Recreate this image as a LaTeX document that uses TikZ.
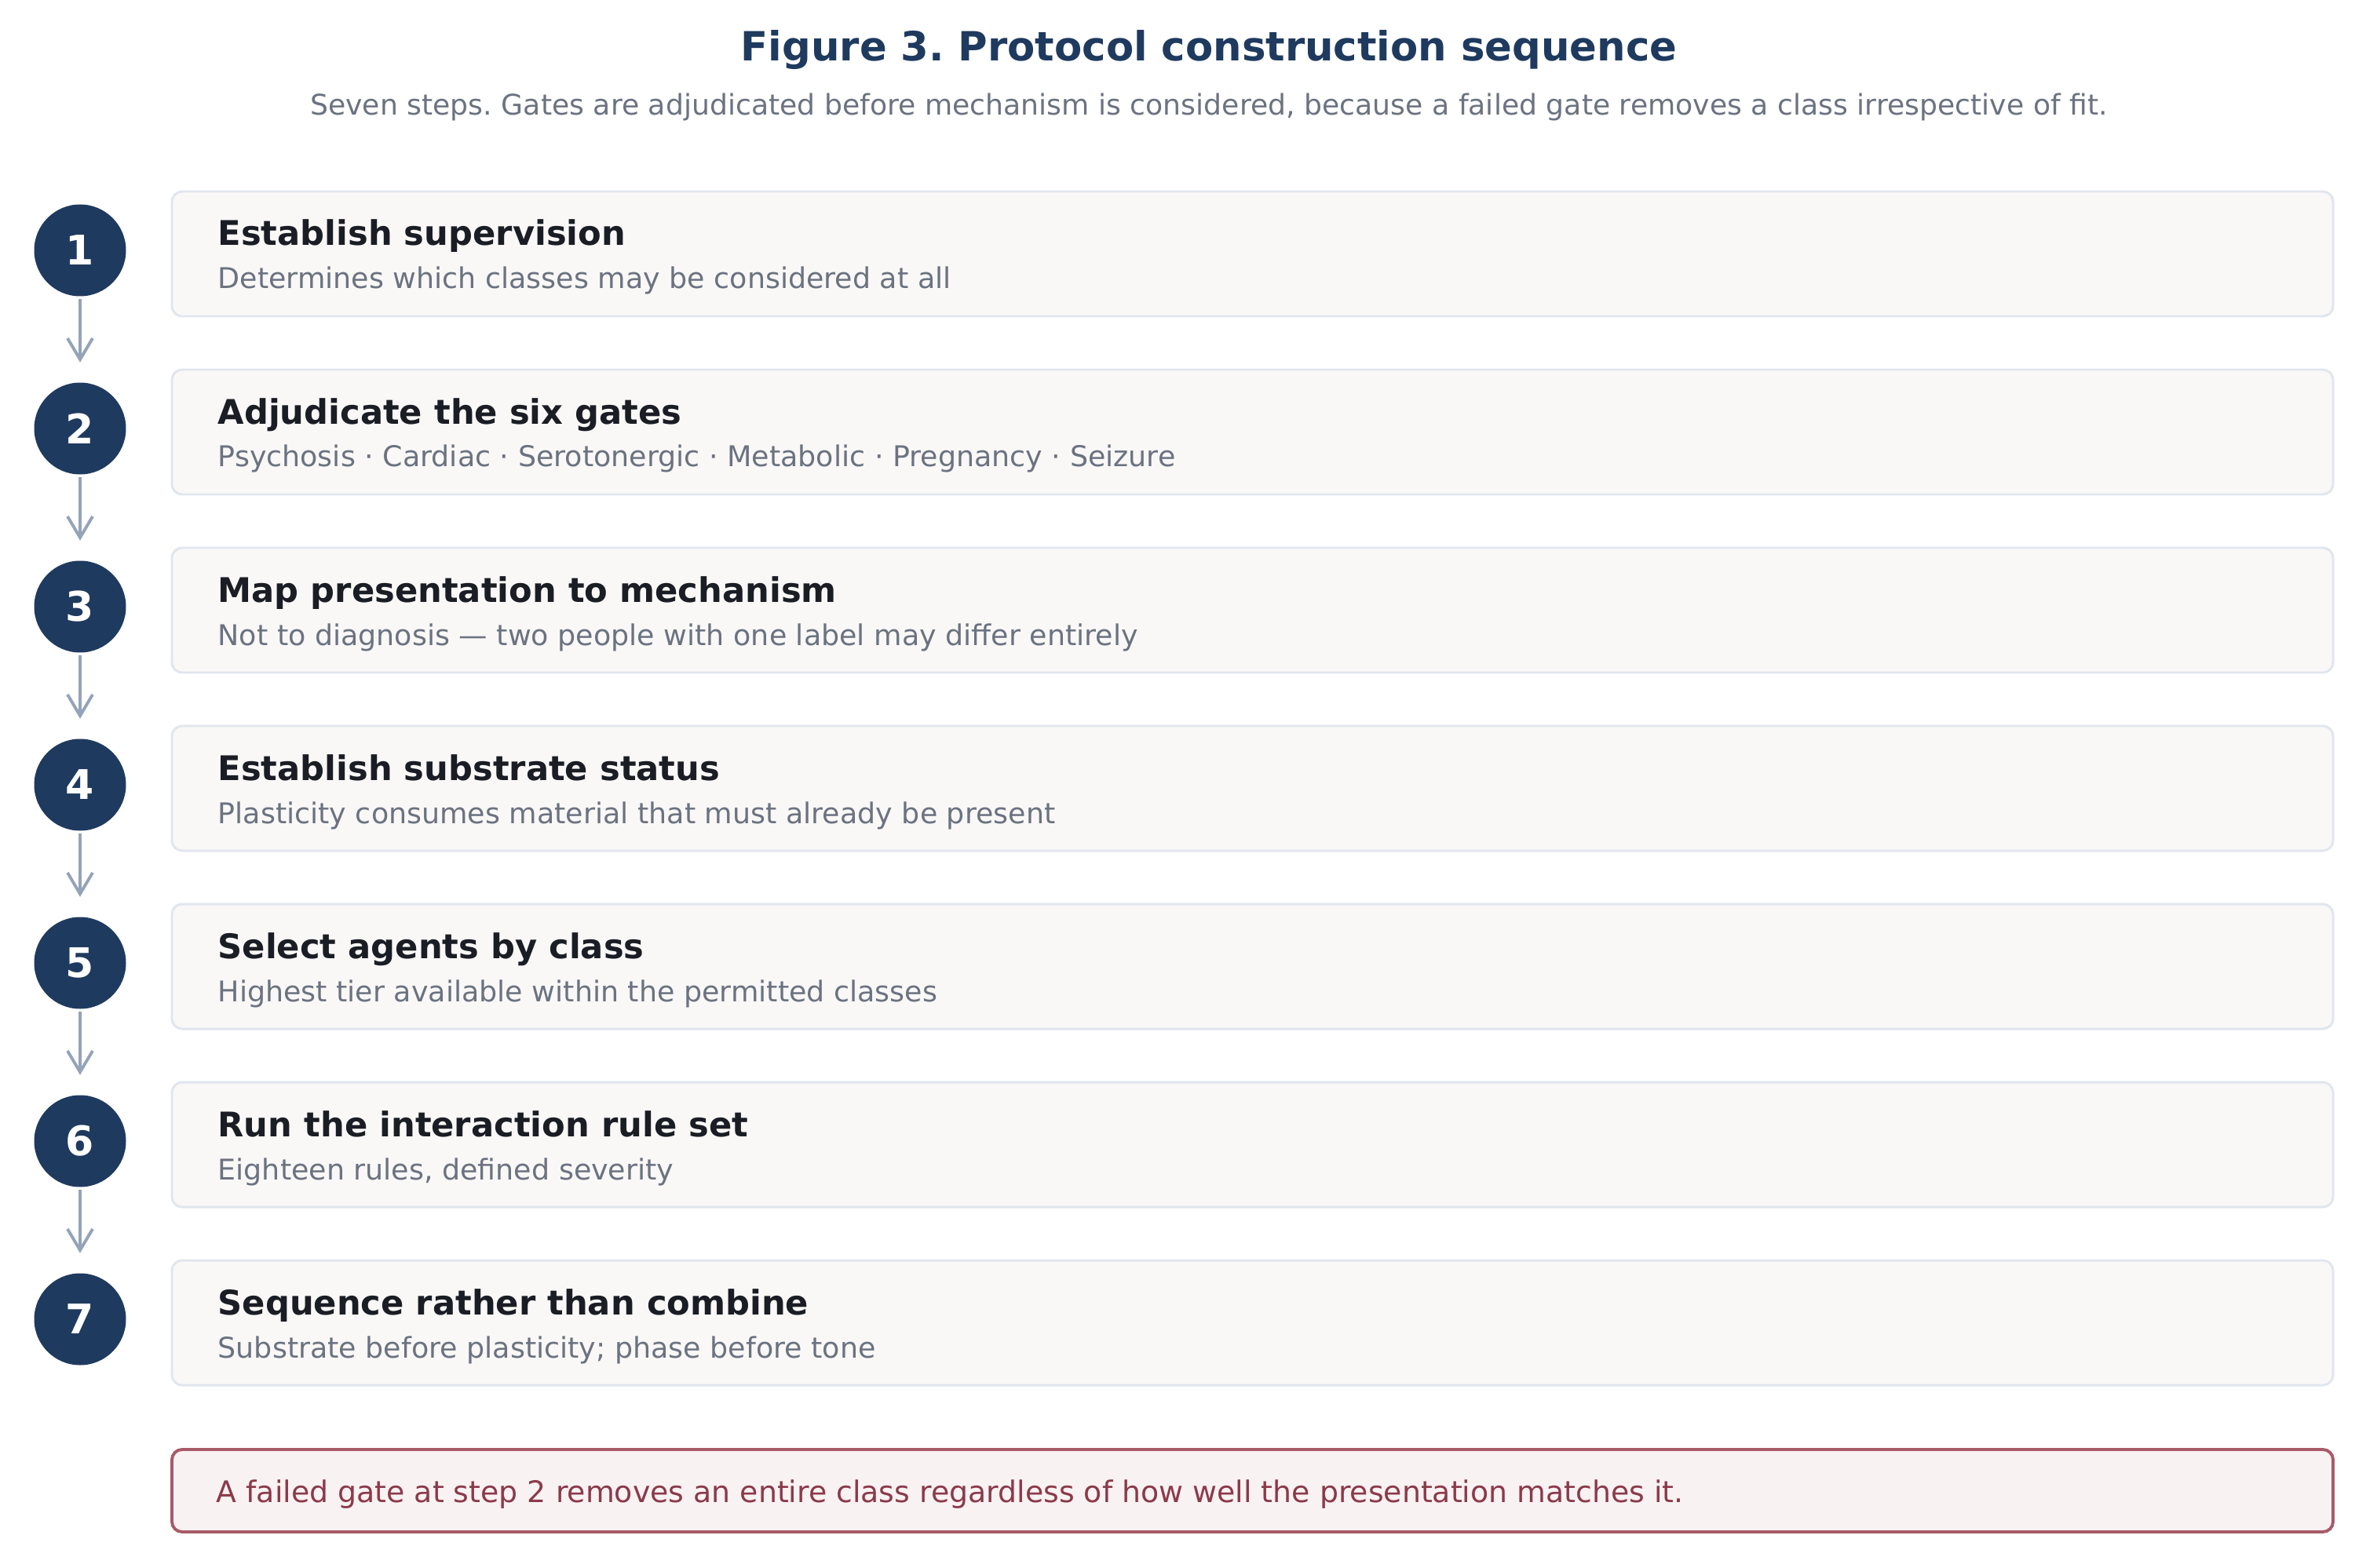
\documentclass[tikz,border=0pt]{standalone}
\usepackage{fontspec}
\setmainfont{DejaVu Sans}
\usetikzlibrary{arrows.meta}
\frenchspacing

\definecolor{navy}{HTML}{1F3A5F}
\definecolor{ink}{HTML}{1A1D24}
\definecolor{muted}{HTML}{6B7280}
\definecolor{boxfill}{HTML}{F9F8F7}
\definecolor{boxline}{HTML}{E1E6EE}
\definecolor{arrowgray}{HTML}{94A3B8}
\definecolor{warnline}{HTML}{A85A68}
\definecolor{warnfill}{HTML}{F9F2F3}
\definecolor{warntext}{HTML}{8B3A4A}

\tikzset{
	stepnum/.style={circle, fill=navy, text=white, minimum size=1.17cm, inner sep=0pt,
		font=\fontsize{14.8}{16}\selectfont\bfseries},
	stepbox/.style={draw=boxline, fill=boxfill, line width=0.85pt, rounded corners=0.13cm,
		minimum width=27.53cm, minimum height=1.59cm, inner sep=0pt},
	steptitle/.style={anchor=base west, inner sep=0pt, text=ink,
		font=\fontsize{12.3}{14}\selectfont\bfseries},
	stepdesc/.style={anchor=base west, inner sep=0pt, text=muted,
		font=\fontsize{10.36}{12}\selectfont},
	flow/.style={draw=arrowgray, line width=1.1pt, shorten <=0.03cm, shorten >=0.25cm,
		-{Straight Barb[length=0.27cm, width=0.32cm, line width=1.1pt]}}
}

\begin{document}
\begin{tikzpicture}
		\useasboundingbox (0,0) rectangle (30.28,-19.98);

		\node[anchor=base, inner sep=0pt, text=navy, font=\fontsize{14.6}{18}\selectfont\bfseries]
			at (15.40, -0.78) (head) {Figure 3. Protocol construction sequence};
		\node[anchor=base, inner sep=0pt, text=muted, font=\fontsize{10.3}{12}\selectfont]
			at (15.40, -1.47) (lead) {Seven steps. Gates are adjudicated before mechanism is considered, because a failed gate removes a class irrespective of fit.};

		\node[stepbox] at (15.955, -3.235) (b1) {};
		\node[stepbox] at (15.955, -5.505) (b2) {};
		\node[stepbox] at (15.955, -7.775) (b3) {};
		\node[stepbox] at (15.955, -10.045) (b4) {};
		\node[stepbox] at (15.955, -12.315) (b5) {};
		\node[stepbox] at (15.955, -14.585) (b6) {};
		\node[stepbox] at (15.955, -16.855) (b7) {};

		\node[stepnum] at (1.02, -3.19) (n1) {1};
		\node[stepnum] at (1.02, -5.46) (n2) {2};
		\node[stepnum] at (1.02, -7.73) (n3) {3};
		\node[stepnum] at (1.02, -10.00) (n4) {4};
		\node[stepnum] at (1.02, -12.27) (n5) {5};
		\node[stepnum] at (1.02, -14.54) (n6) {6};
		\node[stepnum] at (1.02, -16.81) (n7) {7};

		\node[steptitle] at (2.77, -3.13) (t1) {Establish supervision};
		\node[stepdesc] at (2.77, -3.68) (d1) {Determines which classes may be considered at all};
		\node[steptitle] at (2.77, -5.40) (t2) {Adjudicate the six gates};
		\node[stepdesc] at (2.77, -5.95) (d2) {Psychosis · Cardiac · Serotonergic · Metabolic · Pregnancy · Seizure};
		\node[steptitle] at (2.77, -7.67) (t3) {Map presentation to mechanism};
		\node[stepdesc] at (2.77, -8.22) (d3) {Not to diagnosis — two people with one label may differ entirely};
		\node[steptitle] at (2.77, -9.94) (t4) {Establish substrate status};
		\node[stepdesc] at (2.77, -10.49) (d4) {Plasticity consumes material that must already be present};
		\node[steptitle] at (2.77, -12.21) (t5) {Select agents by class};
		\node[stepdesc] at (2.77, -12.76) (d5) {Highest tier available within the permitted classes};
		\node[steptitle] at (2.77, -14.48) (t6) {Run the interaction rule set};
		\node[stepdesc] at (2.77, -15.03) (d6) {Eighteen rules, defined severity};
		\node[steptitle] at (2.77, -16.75) (t7) {Sequence rather than combine};
		\node[stepdesc] at (2.77, -17.30) (d7) {Substrate before plasticity; phase before tone};

		\draw[flow] (n1) -- (n2);
		\draw[flow] (n2) -- (n3);
		\draw[flow] (n3) -- (n4);
		\draw[flow] (n4) -- (n5);
		\draw[flow] (n5) -- (n6);
		\draw[flow] (n6) -- (n7);

		\node[draw=warnline, fill=warnfill, line width=1.1pt, rounded corners=0.13cm,
			minimum width=27.53cm, minimum height=1.05cm, inner sep=0pt] at (15.955, -18.995) (warn) {};
		\node[anchor=base west, inner sep=0pt, text=warntext, font=\fontsize{10.77}{13}\selectfont]
			at (2.75, -19.14) (warntxt) {A failed gate at step 2 removes an entire class regardless of how well the presentation matches it.};

	\end{tikzpicture}
\end{document}
